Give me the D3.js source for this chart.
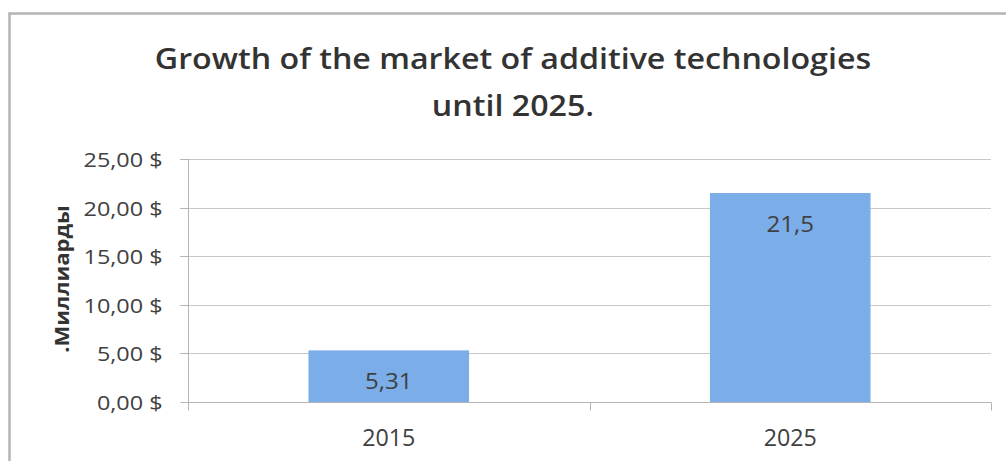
<!DOCTYPE html>
<html>
<head>
<meta charset="utf-8">
<script src="https://cdn.jsdelivr.net/npm/d3@7"></script>
<style>
  html, body { margin: 0; padding: 0; background: #fff; }
  svg { display: block; }
  text { font-family: "Open Sans", "DejaVu Sans", sans-serif; }
</style>
</head>
<body>
<svg id="chart" width="1006" height="461"></svg>
<script>
const categories = ["2015", "2025"];
const values = [5.31, 21.5];
const valueLabels = ["5,31", "21,5"];
const yTicks = [0, 5, 10, 15, 20, 25];
const yTickLabels = ["0,00 $", "5,00 $", "10,00 $", "15,00 $", "20,00 $", "25,00 $"];
const titleLines = ["Growth of the market of additive technologies", "until 2025."];
const yAxisTitle = ".Миллиарды";

const svg = d3.select("#chart");
const plot = { left: 188, right: 991, top: 159, bottom: 402 };

// outer chart border
svg.append("rect")
  .attr("x", 9.5).attr("y", 13.5)
  .attr("width", 1100).attr("height", 600)
  .attr("fill", "#fff")
  .attr("stroke", "#b4b4b4")
  .attr("stroke-width", 2.5);

const x = d3.scaleBand().domain(categories)
  .range([plot.left, plot.right])
  .paddingInner(0.6).paddingOuter(0.3);
const y = d3.scaleLinear().domain([0, 25]).range([plot.bottom, plot.top]);

// gridlines
svg.append("g").selectAll("line").data(yTicks.filter(d => d > 0)).join("line")
  .attr("x1", plot.left - 8).attr("x2", plot.right)
  .attr("y1", d => Math.round(y(d)) + 0.5).attr("y2", d => Math.round(y(d)) + 0.5)
  .attr("stroke", "#c8c8c8").attr("stroke-width", 1);

// y axis
const yAxis = svg.append("g")
  .attr("transform", `translate(${plot.left + 0.5},0)`)
  .call(d3.axisLeft(y).tickValues(yTicks).tickSize(8).tickFormat((d, i) => yTickLabels[i]));
yAxis.select(".domain").attr("stroke", "#b4b4b4").attr("d", `M0,${plot.top}V${plot.bottom + 8}`);
yAxis.selectAll(".tick line").attr("stroke", "#b4b4b4");
yAxis.selectAll(".tick").attr("transform", d => `translate(0,${Math.round(y(d)) + 0.5})`);
yAxis.selectAll(".tick text")
  .attr("dy", "0.36em")
  .attr("fill", "#404040")
  .style("font-size", "19.5px")
  .attr("font-family", null)
  .attr("transform", "scale(1.2,1)")
  .attr("x", -26 / 1.2);

// bars
svg.append("g").selectAll("rect").data(values).join("rect")
  .attr("x", (d, i) => x(categories[i]))
  .attr("y", d => y(d))
  .attr("width", x.bandwidth())
  .attr("height", d => y(0) - y(d))
  .attr("fill", "#7BADE8");

// x axis
const xb = d3.scaleBand().domain(categories).range([plot.left, plot.right]);
const xAxisLine = svg.append("g").attr("transform", `translate(0,${plot.bottom + 0.5})`);
xAxisLine.append("line")
  .attr("x1", plot.left).attr("x2", plot.right)
  .attr("stroke", "#b4b4b4");
const sepTicks = [plot.left, ...categories.slice(1).map(c => xb(c)), plot.right];
xAxisLine.selectAll("line.sep").data(sepTicks).join("line").attr("class", "sep")
  .attr("x1", d => Math.round(d) + 0.5).attr("x2", d => Math.round(d) + 0.5)
  .attr("y1", 0).attr("y2", 8)
  .attr("stroke", "#b4b4b4");
svg.append("g").selectAll("text").data(categories).join("text")
  .attr("transform", d => `translate(${x(d) + x.bandwidth() / 2},${plot.bottom + 35}) scale(0.95,1)`)
  .attr("dy", "0.36em")
  .attr("text-anchor", "middle")
  .attr("fill", "#404040")
  .style("font-size", "24.5px")
  .text(d => d);

// value labels
svg.append("g").selectAll("text").data(values).join("text")
  .attr("transform", (d, i) => `translate(${x(categories[i]) + x.bandwidth() / 2},${y(d) + 30.5}) scale(1.07,1)`)
  .attr("dy", "0.36em")
  .attr("text-anchor", "middle")
  .attr("fill", "#404040")
  .style("font-size", "22.5px")
  .text((d, i) => valueLabels[i]);

// title
svg.append("g").selectAll("text").data(titleLines).join("text")
  .attr("transform", (d, i) => `translate(513,${68.5 + i * 47}) scale(1.15,1)`)
  .attr("text-anchor", "middle")
  .attr("fill", "#333")
  .style("font-size", "28px")
  .style("font-weight", "600")
  .text(d => d);

// y axis title
svg.append("text")
  .attr("transform", "translate(69,279) rotate(-90) scale(1.1,1)")
  .attr("text-anchor", "middle")
  .attr("fill", "#333")
  .style("font-size", "20px")
  .style("font-weight", "700")
  .text(yAxisTitle);
</script>
</body>
</html>
